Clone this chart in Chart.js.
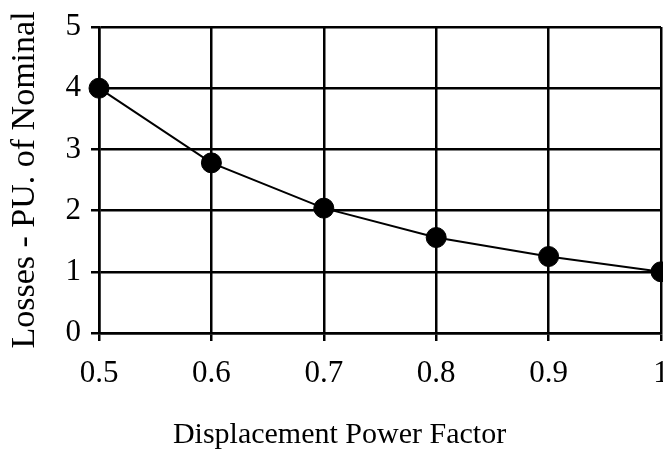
<!DOCTYPE html>
<html>
<head>
<meta charset="utf-8">
<script src="https://cdn.jsdelivr.net/npm/chart.js@4"></script>
<style>
html,body{margin:0;padding:0;background:#fff;}
canvas{display:block;}
</style>
</head>
<body>
<canvas id="c" width="663" height="453"></canvas>
<script>
const xLabels = ['0.5', '0.6', '0.7', '0.8', '0.9', '1'];
const lossValues = [4, 2.78, 2.04, 1.56, 1.25, 1];
const yTicks = [0, 1, 2, 3, 4, 5];
const xTitle = 'Displacement Power Factor';
const yTitle = 'Losses - PU. of Nominal';

const FONT = "'Liberation Serif', 'Times New Roman', serif";

new Chart(document.getElementById('c'), {
  type: 'line',
  data: {
    labels: xLabels,
    datasets: [{
      data: lossValues,
      borderColor: '#000',
      backgroundColor: '#000',
      borderWidth: 2,
      pointRadius: 10,
      pointHoverRadius: 10,
      pointBackgroundColor: '#000',
      pointBorderColor: '#000',
      pointBorderWidth: 1,
      tension: 0,
      fill: false,
      clip: false
    }]
  },
  options: {
    responsive: false,
    animation: false,
    events: [],
    layout: { autoPadding: false, padding: { left: 18, right: 2, top: 27, bottom: 0 } },
    plugins: {
      legend: { display: false },
      tooltip: { enabled: false },
      title: {
        display: true,
        position: 'bottom',
        text: xTitle,
        color: '#000',
        font: { family: FONT, size: 30, weight: 'normal' },
        padding: { top: 0, bottom: 0 }
      }
    },
    scales: {
      x: {
        type: 'category',
        offset: false,
        grid: { color: '#000', lineWidth: 2.5, tickLength: 8, drawTicks: true },
        border: { display: true, color: '#000', width: 2.5 },
        ticks: {
          color: '#000',
          padding: 14,
          maxRotation: 0,
          autoSkip: false,
          font: { family: FONT, size: 31 }
        },
        afterFit: (s) => { s.height = 84; s.paddingLeft = 0; s.paddingRight = 0; }
      },
      y: {
        type: 'linear',
        min: yTicks[0],
        max: yTicks[yTicks.length - 1],
        afterBuildTicks: (s) => { s.ticks = yTicks.map(v => ({ value: v })); },
        grid: { color: '#000', lineWidth: 2.5, tickLength: 8, drawTicks: true },
        border: { display: true, color: '#000', width: 2.5 },
        ticks: {
          color: '#000',
          padding: 10,
          font: { family: FONT, size: 31 },
          callback: (v) => String(v)
        },
        title: {
          display: true,
          text: yTitle,
          color: '#000',
          font: { family: FONT, size: 34, weight: 'normal' },
          padding: { top: -13, bottom: 0 }
        },
        afterFit: (s) => { s.width = 81; s.paddingTop = 0; s.paddingBottom = 0; }
      }
    }
  }
});
</script>
</body>
</html>
